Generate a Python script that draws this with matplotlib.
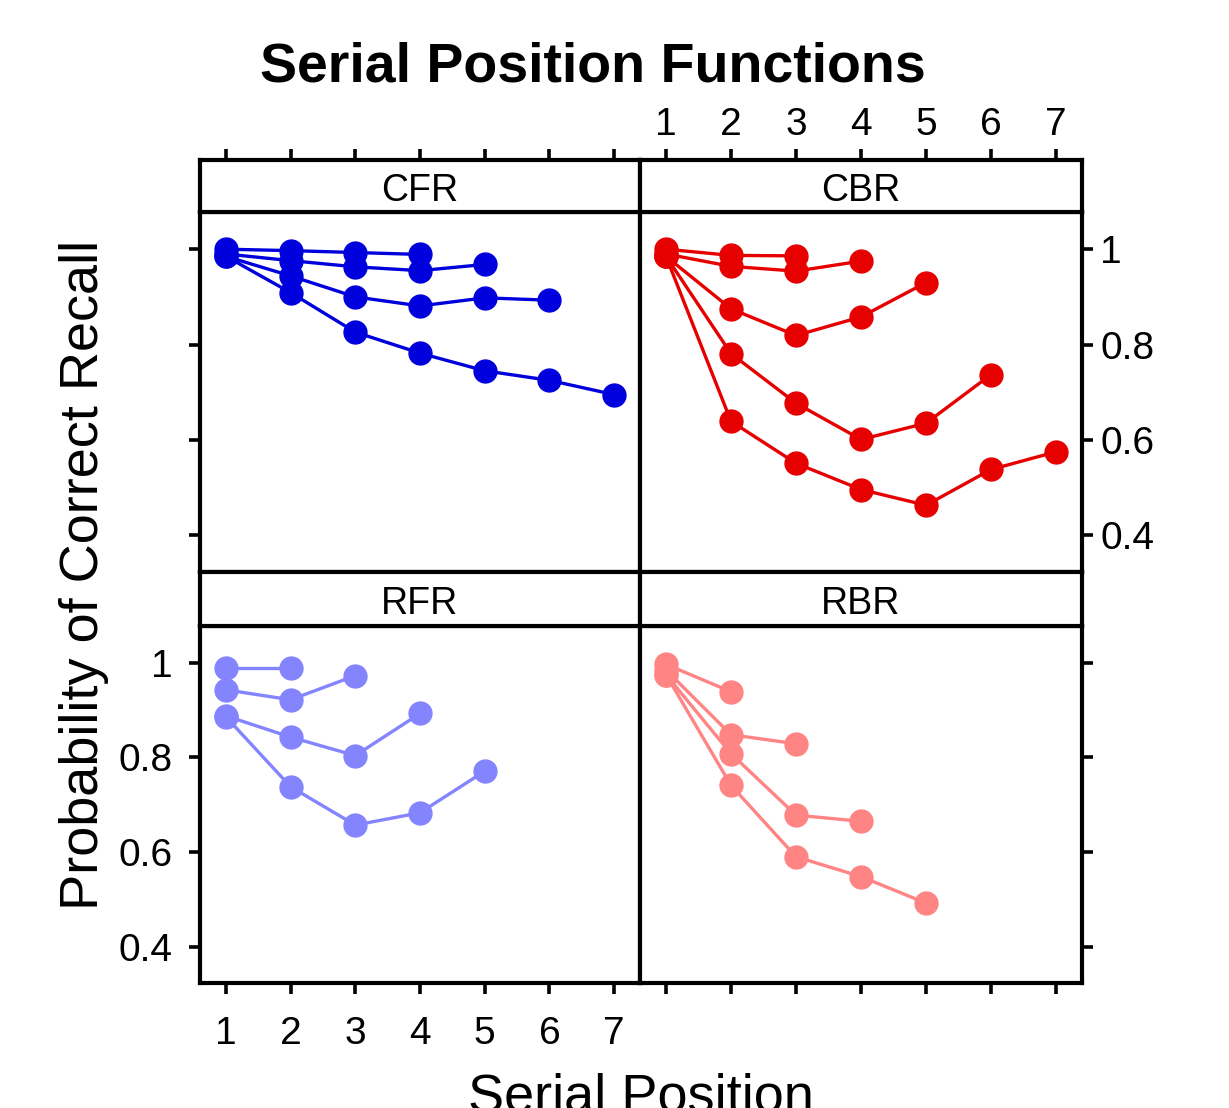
import numpy as np
import matplotlib
matplotlib.use("Agg")
import matplotlib.pyplot as plt

plt.rcParams["font.family"] = ["Liberation Sans", "DejaVu Sans"]

# probability of correct recall by serial position, one list per list length
cfr = [
    [1.000, 0.997, 0.993, 0.989],
    [0.990, 0.976, 0.963, 0.955, 0.968],
    [0.985, 0.944, 0.900, 0.881, 0.898, 0.893],
    [0.985, 0.909, 0.826, 0.782, 0.745, 0.725, 0.695],
]
cbr = [
    [1.000, 0.987, 0.986],
    [0.990, 0.964, 0.954, 0.975],
    [0.985, 0.875, 0.819, 0.858, 0.930],
    [0.985, 0.781, 0.677, 0.601, 0.635, 0.737],
    [0.985, 0.639, 0.551, 0.496, 0.463, 0.538, 0.575],
]
rfr = [
    [0.990, 0.990],
    [0.943, 0.922, 0.973],
    [0.888, 0.843, 0.804, 0.893],
    [0.886, 0.738, 0.657, 0.683, 0.771],
]
rbr = [
    [0.997, 0.939],
    [0.985, 0.848, 0.829],
    [0.975, 0.808, 0.678, 0.665],
    [0.975, 0.741, 0.590, 0.548, 0.492],
]

panel_names = ["CFR", "CBR", "RFR", "RBR"]
panel_data = [cfr, cbr, rfr, rbr]
panel_colors = ["#0000DC", "#E60000", "#8484FF", "#FF8484"]

x_ticks = [1, 2, 3, 4, 5, 6, 7]
y_ticks = [0.4, 0.6, 0.8, 1.0]
y_ticklabels = ["0.4", "0.6", "0.8", "1"]

W, H = 1229, 1108
fig = plt.figure(figsize=(W / 100, H / 100), dpi=100)

frame_lw = 3.0
tick_fs = 28


def fx(px):
    return px / W


def fy(py):
    return 1 - py / H


# panel boxes in pixels: (left, right) and (strip top, strip bottom, plot bottom)
cols = [(200, 640), (640, 1082)]
rows = [(160, 212, 572), (572, 626, 983)]

for i, (name, data, col) in enumerate(zip(panel_names, panel_data, panel_colors)):
    r, c = divmod(i, 2)
    x0, x1 = cols[c]
    s_top, s_bot, p_bot = rows[r]

    ax = fig.add_axes([fx(x0), fy(p_bot), fx(x1) - fx(x0), fy(s_bot) - fy(p_bot)])
    sx = fig.add_axes([fx(x0), fy(s_bot), fx(x1) - fx(x0), fy(s_top) - fy(s_bot)])

    for series in data:
        pos = np.arange(1, len(series) + 1)
        ax.plot(pos, series, "-o", color=col, lw=2.4, ms=16.5, mec=col)

    ax.set_xlim(0.6, 7.4)
    ax.set_ylim(0.323, 1.078)
    ax.set_xticks(x_ticks)
    ax.set_yticks(y_ticks)
    ax.set_xticklabels([str(v) for v in x_ticks])
    ax.set_yticklabels(y_ticklabels)
    for sp in ax.spines.values():
        sp.set_linewidth(frame_lw)
    ax.tick_params(axis="both", direction="out", length=8, width=2.6,
                   labelsize=tick_fs, top=False, bottom=(r == 1),
                   left=(c == 0), right=(c == 1),
                   labelbottom=(r == 1 and c == 0),
                   labelleft=(r == 1 and c == 0),
                   labelright=(r == 0 and c == 1),
                   labeltop=False)
    ax.tick_params(axis="x", pad=16)
    ax.tick_params(axis="y", pad=12 if c == 0 else 5)
    for lab in ax.get_yticklabels():
        lab.set_y(lab.get_position()[1])

    # strip
    sx.set_xlim(0.6, 7.4)
    sx.set_ylim(0, 1)
    sx.set_yticks([])
    sx.set_xticks(x_ticks)
    sx.set_xticklabels([str(v) for v in x_ticks])
    for sp in sx.spines.values():
        sp.set_linewidth(frame_lw)
    sx.tick_params(axis="x", direction="out", length=8, width=2.6,
                   labelsize=tick_fs, bottom=False, labelbottom=False,
                   top=(r == 0), labeltop=(r == 0 and c == 1), pad=4)
    sx.text(0.5, 0.40, name, transform=sx.transAxes, ha="center",
            va="center", fontsize=27)

fig.text(fx(593), fy(82), "Serial Position Functions", ha="center",
         va="baseline", fontsize=40, fontweight="bold")
fig.text(fx(84), fy(575), "Probability of Correct Recall", ha="center",
         va="center", rotation=90, fontsize=39)
fig.text(fx(641), fy(1111), "Serial Position", ha="center",
         va="baseline", fontsize=39)

fig.savefig("out.png", dpi=100)
